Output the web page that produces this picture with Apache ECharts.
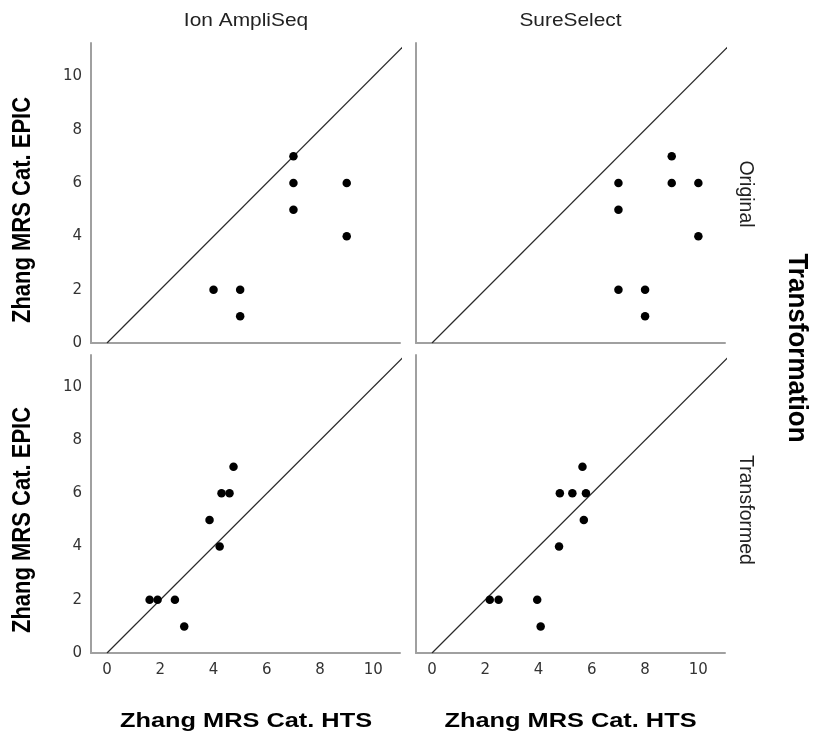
<!DOCTYPE html>
<html>
<head>
<meta charset="utf-8">
<script src="https://cdn.jsdelivr.net/npm/echarts@6/dist/echarts.min.js"></script>
<style>html,body{margin:0;padding:0;background:#fff;}#c{width:813px;height:743px;}</style>
</head>
<body>
<div id="c"></div>
<script>
// ---- data ----
const columns = ['Ion AmpliSeq', 'SureSelect'];
const rows = ['Original', 'Transformed'];
const xTitle = 'Zhang MRS Cat. HTS';
const yTitle = 'Zhang MRS Cat. EPIC';
const facetTitle = 'Transformation';
const tickValues = [0, 2, 4, 6, 8, 10];
const refLine = [0, 12];

const ionOriginal = [[7,7],[7,6],[7,5],[9,6],[9,4],[4,2],[5,2],[5,1]];
const sureOriginal = [[7,6],[7,5],[7,2],[8,2],[8,1],[9,7],[9,6],[10,6],[10,4]];
const ionTransformed = [[4.75,7],[4.3,6],[4.6,6],[3.85,5],[4.23,4],[1.6,2],[1.9,2],[2.55,2],[2.9,1]];
const sureTransformed = [[5.65,7],[4.8,6],[5.27,6],[5.78,6],[5.7,5],[4.77,4],[2.17,2],[2.5,2],[3.95,2],[4.08,1]];

const panels = [ionOriginal, sureOriginal, ionTransformed, sureTransformed];

// ---- layout ----
const gridPos = [
  {left: 91, top: 43, width: 309, height: 300},
  {left: 416, top: 43, width: 309, height: 300},
  {left: 91, top: 355, width: 309, height: 298},
  {left: 416, top: 355, width: 309, height: 298}
];
const yMax = [11.25, 11.25, 11.2, 11.2];
const axisColor = '#a0a0a0';
const labelFont = {fontFamily: 'DejaVu Sans', fontSize: 15, color: '#333'};
const FF = '"Liberation Sans", Arial, sans-serif';

const grids = [], xAxes = [], yAxes = [], series = [];
panels.forEach((pts, i) => {
  const isLeft = i % 2 === 0, isBottom = i >= 2;
  grids.push(Object.assign({containLabel: false}, gridPos[i]));
  xAxes.push({
    gridIndex: i, type: 'value', min: -0.6, max: 11.0,
    axisLine: {show: true, onZero: false, lineStyle: {color: axisColor, width: 2}},
    axisTick: {show: false}, splitLine: {show: false},
    axisLabel: Object.assign({show: isBottom, margin: 10, customValues: tickValues}, labelFont)
  });
  yAxes.push({
    gridIndex: i, type: 'value', min: 0, max: yMax[i],
    axisLine: {show: true, onZero: false, lineStyle: {color: axisColor, width: 2}},
    axisTick: {show: false}, splitLine: {show: false},
    axisLabel: Object.assign({show: isLeft, margin: 9, customValues: tickValues}, labelFont)
  });
  series.push({
    type: 'line', xAxisIndex: i, yAxisIndex: i, clip: true, silent: true,
    data: [[refLine[0], refLine[0]], [refLine[1], refLine[1]]],
    symbol: 'none', lineStyle: {color: '#2a2a2a', width: 1.2}, z: 2
  });
  series.push({
    type: 'scatter', xAxisIndex: i, yAxisIndex: i,
    data: pts, symbol: 'circle', symbolSize: 8.5,
    itemStyle: {color: '#000', opacity: 1}, z: 3
  });
});

const colCenters = [246, 570.5];
const titleRowCenters = [210, 520];
const sideRowCenters = [194, 510];
const graphic = [];
columns.forEach((c, j) => graphic.push({
  type: 'text', x: colCenters[j], y: 21, scaleX: 1.1,
  style: {text: c, fontFamily: FF, fontSize: 19, fill: '#222', align: 'center', verticalAlign: 'middle'}
}));
columns.forEach((c, j) => graphic.push({
  type: 'text', x: colCenters[j], y: 722, scaleX: 1.3,
  style: {text: xTitle, fontFamily: FF, fontWeight: 'bold', fontSize: 19.5, fill: '#000', align: 'center', verticalAlign: 'middle'}
}));
rows.forEach((r, k) => {
  graphic.push({
    type: 'text', x: 23, y: titleRowCenters[k], rotation: Math.PI / 2, scaleY: 1.2,
    style: {text: yTitle, fontFamily: FF, fontWeight: 'bold', fontSize: 22, fill: '#000', align: 'center', verticalAlign: 'middle'}
  });
  graphic.push({
    type: 'text', x: 746, y: sideRowCenters[k], rotation: -Math.PI / 2, scaleY: 1.05,
    style: {text: r, fontFamily: FF, fontSize: 19.5, fill: '#222', align: 'center', verticalAlign: 'middle'}
  });
});
graphic.push({
  type: 'text', x: 797, y: 348, rotation: -Math.PI / 2, scaleY: 1.05,
  style: {text: facetTitle, fontFamily: FF, fontWeight: 'bold', fontSize: 26, fill: '#000', align: 'center', verticalAlign: 'middle'}
});

const chart = echarts.init(document.getElementById('c'), null, {renderer: 'canvas'});
chart.setOption({
  backgroundColor: '#fff',
  animation: false,
  grid: grids, xAxis: xAxes, yAxis: yAxes, series: series, graphic: graphic
});
</script>
</body>
</html>
